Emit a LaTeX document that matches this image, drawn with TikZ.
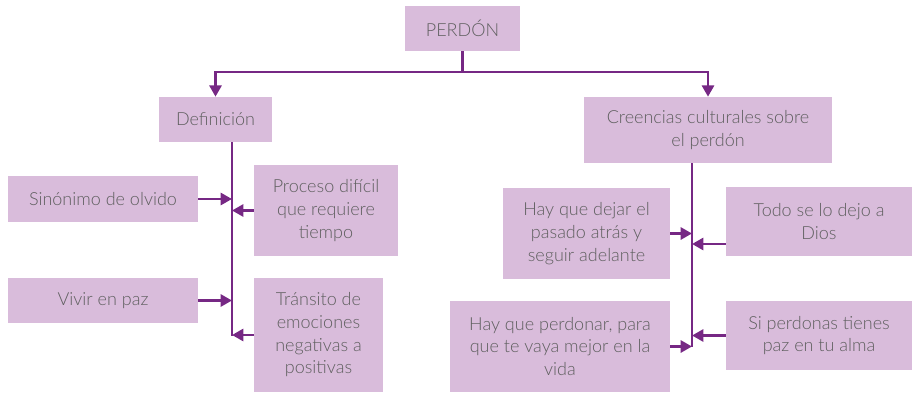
\documentclass[tikz,border=0pt]{standalone}
\usepackage{fontspec}
\setmainfont{Lato}[UprightFont={* Light}]
\usetikzlibrary{arrows.meta}
\definecolor{boxfill}{RGB}{217,188,219}
\definecolor{linec}{RGB}{118,40,132}
\definecolor{textc}{RGB}{95,95,95}
\begin{document}
\begin{tikzpicture}[x=0.75pt,y=-0.75pt,
  box/.style={fill=boxfill,draw=none,inner sep=0pt,align=center,text=textc,font=\fontsize{13.5}{17}\selectfont},
  conn/.style={draw=linec,line width=2.1pt},
  arr/.style={conn,-{Triangle[length=8.5pt,width=9pt]}}]
\useasboundingbox (0,0) rectangle (912,392);
% boxes
\node[box,minimum width=115*0.75pt,minimum height=45*0.75pt] (perdon) at (462.5,28.5) {PERDÓN};
\node[box,minimum width=113*0.75pt,minimum height=45*0.75pt] (def) at (215.5,119.5) {Definición};
\node[box,minimum width=248*0.75pt,minimum height=66*0.75pt] (cre) at (708,130) {Creencias culturales sobre\\el perdón};
\node[box,minimum width=190*0.75pt,minimum height=46*0.75pt] (sin) at (103,199) {Sinónimo de olvido};
\node[box,minimum width=144*0.75pt,minimum height=91*0.75pt] (pro) at (326,210.5) {Proceso difícil\\que requiere\\tiempo};
\node[box,minimum width=190*0.75pt,minimum height=45*0.75pt] (viv) at (103,300.5) {Vivir en paz};
\node[box,minimum width=129*0.75pt,minimum height=114*0.75pt] (tra) at (318.5,335) {Tránsito de\\emociones\\negativas a\\positivas};
\node[box,minimum width=167*0.75pt,minimum height=91*0.75pt] (dej) at (586.5,233.5) {Hay que dejar el\\pasado atrás y\\seguir adelante};
\node[box,minimum width=186*0.75pt,minimum height=69*0.75pt] (tod) at (819,221.5) {Todo se lo dejo a\\Dios};
\node[box,minimum width=220*0.75pt,minimum height=91*0.75pt] (per) at (560,346.5) {Hay que perdonar, para\\que te vaya mejor en la\\vida};
\node[box,minimum width=186*0.75pt,minimum height=69*0.75pt] (sip) at (819,335.5) {Si perdonas tienes\\paz en tu alma};
% coordinates
\coordinate (j) at (462.5,72);
\coordinate (lb) at (232,335);
\coordinate (rb) at (692,346);
\coordinate (ty) at (0,244);
% top
\draw[conn] (perdon.south) -- (j);
\draw[arr] (j) -| (def.north);
\draw[arr] (j) -| (cre.north);
% left bar
\draw[conn] (def.south -| lb) -- ([yshift=-1pt]lb);
\draw[arr] (sin.east) -- (sin.east -| lb);
\draw[arr] (pro.west) -- (pro.west -| lb);
\draw[arr] (viv.east) -- (viv.east -| lb);
\draw[arr] (tra.west) -- (lb);
% right bar
\draw[conn] (cre.south -| rb) -- ([yshift=-1pt]rb);
\draw[arr] (dej.east) -- (dej.east -| rb);
\draw[arr] (tod.west |- ty) -- (rb |- ty);
\draw[arr] (per.east) -- (per.east -| rb);
\draw[arr] (sip.west) -- (sip.west -| rb);
\end{tikzpicture}
\end{document}
